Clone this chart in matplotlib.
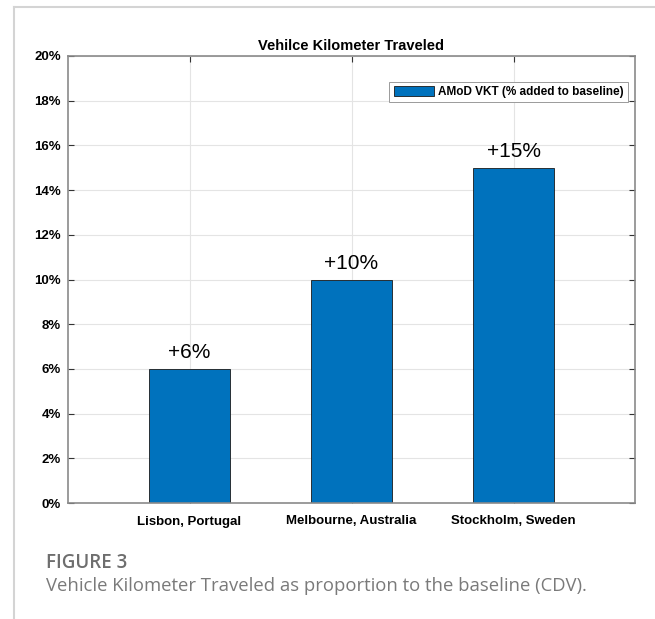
import numpy as np
import matplotlib
matplotlib.use("Agg")
import matplotlib.pyplot as plt
from matplotlib.lines import Line2D

cities = ["Lisbon, Portugal", "Melbourne, Australia", "Stockholm, Sweden"]
vkt_added = [6, 10, 15]
bar_labels = ["+6%", "+10%", "+15%"]
y_ticks = [0, 2, 4, 6, 8, 10, 12, 14, 16, 18, 20]

plt.rcParams['font.family'] = ['Liberation Sans', 'DejaVu Sans']

fig = plt.figure(figsize=(6.55, 6.19), dpi=100)
ax = fig.add_axes([68 / 655, 1 - 503 / 619, 567 / 655, 447 / 619])

x = np.arange(1, len(cities) + 1)
ax.bar(x, vkt_added, width=0.5, color='#0072BD', edgecolor='#1a1a1a',
       linewidth=0.6, label='AMoD VKT (% added to baseline)')

for xi, v, lab in zip(x, vkt_added, bar_labels):
    ax.annotate(lab, (xi, v), xytext=(0, 5), textcoords='offset points',
                ha='center', va='bottom', fontsize=15)

ax.set_xlim(0.25, 3.75)
ax.set_ylim(0, 20)
ax.set_xticks(x)
ax.set_xticklabels(cities, fontweight='bold', fontsize=9.5)
ax.set_yticks(y_ticks)
ax.set_yticklabels([f"{t}%" for t in y_ticks], fontweight='bold', fontsize=9.5)
ax.tick_params(direction='in', top=True, right=True, length=4, width=0.8,
               color='#333333')
ax.tick_params(axis='x', pad=9)
ax.tick_params(axis='y', pad=5)
ax.grid(True, color='#e4e4e4', linewidth=0.8)
ax.set_axisbelow(True)
for s in ax.spines.values():
    s.set_color('#8a8a8a')
    s.set_linewidth(1.2)

ax.set_title('Vehilce Kilometer Traveled', fontweight='bold', fontsize=10.5, pad=4)

leg = ax.legend(loc='upper right', bbox_to_anchor=(0.988, 0.942), borderaxespad=0,
                fancybox=False, edgecolor='#9a9a9a', framealpha=1,
                prop={'weight': 'bold', 'size': 8.5}, handlelength=3.4,
                handleheight=0.9, handletextpad=0.4, borderpad=0.35)
leg.get_frame().set_linewidth(0.7)

# page frame lines
fig.add_artist(Line2D([14 / 655, 1], [1 - 7 / 619, 1 - 7 / 619], color='#d4d4d4', lw=1.5))
fig.add_artist(Line2D([14 / 655, 14 / 655], [0, 1 - 7 / 619], color='#d4d4d4', lw=1.5))

fig.text(46 / 655, 1 - 568 / 619, 'FIGURE 3', fontsize=13.5, color='#6e6e6e',
         family=['Open Sans', 'DejaVu Sans'], fontweight='semibold', va='baseline')
fig.text(46 / 655, 1 - 591 / 619,
         'Vehicle Kilometer Traveled as proportion to the baseline (CDV).',
         fontsize=13.3, color='#7a7a7a', family=['Open Sans', 'DejaVu Sans'],
         va='baseline')

fig.savefig('out.png', dpi=100)
